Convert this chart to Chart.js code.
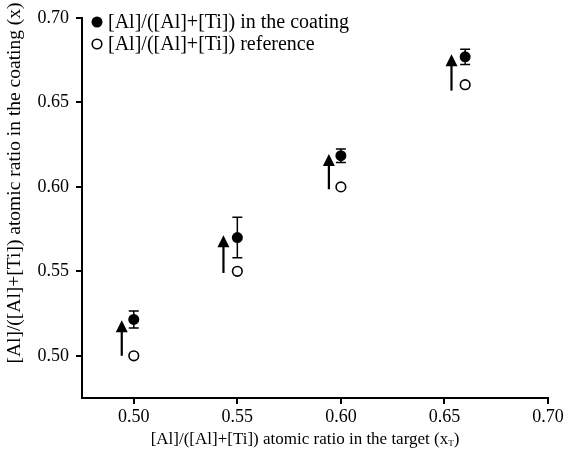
<!DOCTYPE html>
<html lang="en">
<head>
    <meta charset="UTF-8">
    <title>Al/(Al+Ti) ratio: coating vs target</title>
    <script src="https://cdn.jsdelivr.net/npm/chart.js"></script>
    <style>
        body { margin: 0; background: #fff; }
        #chart { display: block; }
    </style>
</head>
<body>
<canvas id="chart" width="571" height="457"></canvas>

<script>
    // values
    const targetRatio = [0.50, 0.55, 0.60, 0.66];
    const coatingRatio = [0.5215, 0.570, 0.6185, 0.677];
    const coatingErr = [0.005, 0.012, 0.004, 0.0045];
    const referenceRatio = [0.50, 0.55, 0.60, 0.6605];
    // arrows drawn next to each pair (x, from, to)
    const arrowX = [0.4942, 0.5433, 0.5942, 0.6534];
    const arrowFrom = [0.50, 0.549, 0.5986, 0.657];
    const arrowTo = [0.521, 0.5714, 0.6195, 0.6786];
    const xTicks = [0.50, 0.55, 0.60, 0.65, 0.70];
    const yTicks = [0.50, 0.55, 0.60, 0.65, 0.70];
    const legendLabels = ['[Al]/([Al]+[Ti]) in the coating', '[Al]/([Al]+[Ti]) reference'];
    const xTitle = '[Al]/([Al]+[Ti]) atomic ratio in the target (x';
    const yTitle = '[Al]/([Al]+[Ti]) atomic ratio in the coating (x)';

    const serif = '"Liberation Serif", "Times New Roman", serif';

    const extras = {
        id: 'extras',
        afterDatasetsDraw(chart) {
            const c = chart.ctx;
            const xs = chart.scales.x, ys = chart.scales.y;
            c.save();
            c.strokeStyle = '#000';
            c.fillStyle = '#000';
            // error bars
            c.lineWidth = 1.5;
            targetRatio.forEach((t, i) => {
                const px = xs.getPixelForValue(t);
                const top = ys.getPixelForValue(coatingRatio[i] + coatingErr[i]);
                const bot = ys.getPixelForValue(coatingRatio[i] - coatingErr[i]);
                c.beginPath();
                c.moveTo(px, top); c.lineTo(px, bot);
                c.moveTo(px - 5, top); c.lineTo(px + 5, top);
                c.moveTo(px - 5, bot); c.lineTo(px + 5, bot);
                c.stroke();
            });
            // arrows
            arrowX.forEach((a, i) => {
                const px = xs.getPixelForValue(a);
                const y0 = ys.getPixelForValue(arrowFrom[i]);
                const y1 = ys.getPixelForValue(arrowTo[i]);
                c.lineWidth = 2.2;
                c.beginPath();
                c.moveTo(px, y0); c.lineTo(px, y1 + 10);
                c.stroke();
                c.beginPath();
                c.moveTo(px, y1);
                c.lineTo(px - 6, y1 + 12);
                c.lineTo(px + 6, y1 + 12);
                c.closePath();
                c.fill();
            });
            c.restore();
        },
        afterDraw(chart) {
            const c = chart.ctx;
            c.save();
            c.fillStyle = '#000';
            c.strokeStyle = '#000';
            // legend
            c.font = '20px ' + serif;
            c.textBaseline = 'middle';
            c.textAlign = 'left';
            const lx = 97;
            c.beginPath();
            c.arc(lx, 22, 5.5, 0, Math.PI * 2);
            c.fill();
            c.fillText(legendLabels[0], 108, 23);
            c.lineWidth = 1.6;
            c.beginPath();
            c.arc(lx, 44, 4.8, 0, Math.PI * 2);
            c.stroke();
            c.fillText(legendLabels[1], 108, 45);
            // x title with subscript T
            c.font = '17px ' + serif;
            c.textBaseline = 'alphabetic';
            const w1 = c.measureText(xTitle).width;
            c.font = '9px ' + serif;
            const w2 = c.measureText('T').width;
            c.font = '17px ' + serif;
            const w3 = c.measureText(')').width;
            let x0 = 305 - (w1 + w2 + w3) / 2;
            const base = 444;
            c.fillText(xTitle, x0, base);
            c.font = '9px ' + serif;
            c.fillText('T', x0 + w1, base + 2);
            c.font = '17px ' + serif;
            c.fillText(')', x0 + w1 + w2, base);
            // y title
            c.translate(15, 183);
            c.rotate(-Math.PI / 2);
            c.textAlign = 'center';
            c.textBaseline = 'middle';
            c.font = '19.5px ' + serif;
            c.fillText(yTitle, 0, 0);
            c.restore();
        }
    };

    const ctx = document.getElementById('chart').getContext('2d');
    new Chart(ctx, {
        type: 'scatter',
        data: {
            datasets: [{
                label: legendLabels[0],
                data: targetRatio.map((t, i) => ({ x: t, y: coatingRatio[i] })),
                pointRadius: 5.5,
                pointBackgroundColor: '#000',
                pointBorderColor: '#000',
                pointBorderWidth: 0
            }, {
                label: legendLabels[1],
                data: targetRatio.map((t, i) => ({ x: t, y: referenceRatio[i] })),
                pointRadius: 4.8,
                pointBackgroundColor: '#fff',
                pointBorderColor: '#000',
                pointBorderWidth: 1.6
            }]
        },
        options: {
            responsive: false,
            animation: false,
            devicePixelRatio: 1,
            layout: { padding: { top: 18, right: 23, left: 0, bottom: 0 } },
            plugins: {
                legend: { display: false },
                tooltip: { enabled: false }
            },
            scales: {
                x: {
                    type: 'linear',
                    min: 0.475,
                    max: 0.70,
                    afterBuildTicks: s => { s.ticks = xTicks.map(v => ({ value: v })); },
                    afterFit: s => { s.height = 59; },
                    grid: { drawOnChartArea: false, color: '#000', lineWidth: 2, tickLength: 6 },
                    border: { color: '#000', width: 2 },
                    ticks: {
                        color: '#000',
                        font: { family: serif, size: 18 },
                        padding: 2,
                        maxRotation: 0,
                        callback: v => v.toFixed(2)
                    }
                },
                y: {
                    type: 'linear',
                    min: 0.475,
                    max: 0.70,
                    afterBuildTicks: s => { s.ticks = yTicks.map(v => ({ value: v })); },
                    afterFit: s => { s.width = 82; },
                    grid: { drawOnChartArea: false, color: '#000', lineWidth: 2, tickLength: 6 },
                    border: { color: '#000', width: 2 },
                    ticks: {
                        color: '#000',
                        font: { family: serif, size: 18 },
                        padding: 7,
                        callback: v => v.toFixed(2)
                    }
                }
            }
        },
        plugins: [extras]
    });
</script>
</body>
</html>
